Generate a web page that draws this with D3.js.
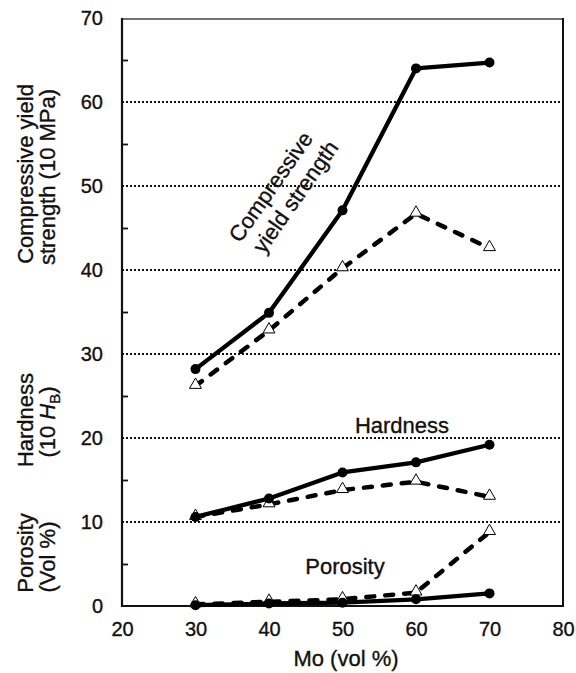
<!DOCTYPE html>
<html>
<head>
<meta charset="utf-8">
<script src="https://cdn.jsdelivr.net/npm/d3@7"></script>
<style>
  body { margin: 0; background: #fff; }
  svg { display: block; }
  text { font-family: "Liberation Sans", Arial, Helvetica, sans-serif; fill: #111; stroke: #111; stroke-width: 0.35px; }
</style>
</head>
<body>
<svg id="chart" width="576" height="673"></svg>
<script>
// ---- data ----
const moContent = [30, 40, 50, 60, 70];
const strengthSolid = [28.2, 34.9, 47.1, 64.0, 64.7];
const strengthDashed = [26.2, 32.8, 40.2, 46.7, 42.6];
const hardnessSolid = [10.6, 12.8, 15.9, 17.1, 19.2];
const hardnessDashed = [10.6, 12.1, 13.8, 14.8, 13.0];
const porositySolid = [0.1, 0.3, 0.4, 0.8, 1.5];
const porosityDashed = [0.2, 0.5, 0.8, 1.6, 8.8];
const xTicks = [20, 30, 40, 50, 60, 70, 80];
const yTicks = [0, 10, 20, 30, 40, 50, 60, 70];
const yMinorTicks = [5, 15, 25, 35, 45, 55, 65];
const gridValues = [10, 20, 30, 40, 50, 60];

const svg = d3.select("#chart");
const L = 122, R = 563, T = 18, B = 606;
const x = d3.scaleLinear().domain([20, 80]).range([L, R]);
const y = d3.scaleLinear().domain([0, 70]).range([B, T]);

// grid
svg.append("g").selectAll("line").data(gridValues).join("line")
  .attr("x1", L).attr("x2", R)
  .attr("y1", d => y(d)).attr("y2", d => y(d))
  .attr("stroke", "#111").attr("stroke-width", 2)
  .attr("stroke-dasharray", "2,2");

// axes
const yAxis = svg.append("g").attr("transform", `translate(${L},0)`)
  .call(d3.axisLeft(y).tickValues(yTicks).tickSize(0).tickPadding(19).tickFormat(d3.format("d")));
yAxis.select(".domain").remove();
yAxis.selectAll("text").style("font-size", "20px").attr("fill", "#111");

const yMinor = svg.append("g").attr("transform", `translate(${L},0)`)
  .call(d3.axisRight(y).tickValues(yMinorTicks).tickSize(6).tickFormat(""));
yMinor.select(".domain").remove();
yMinor.selectAll("line").attr("stroke", "#111").attr("stroke-width", 1.8);

const xAxis = svg.append("g").attr("transform", `translate(0,${B})`)
  .call(d3.axisBottom(x).tickValues(xTicks).tickSize(0).tickPadding(16).tickFormat(d3.format("d")));
xAxis.select(".domain").remove();
xAxis.selectAll("text").style("font-size", "20px").attr("fill", "#111");

// frame
svg.append("line").attr("x1", L).attr("x2", R).attr("y1", T + 1).attr("y2", T + 1)
  .attr("stroke", "#444").attr("stroke-width", 1.5);
svg.append("line").attr("x1", R).attr("x2", R).attr("y1", T).attr("y2", B + 1)
  .attr("stroke", "#111").attr("stroke-width", 2);
svg.append("line").attr("x1", L).attr("x2", L).attr("y1", T).attr("y2", B + 1)
  .attr("stroke", "#111").attr("stroke-width", 2.2);
svg.append("line").attr("x1", L - 1).attr("x2", R + 1).attr("y1", B).attr("y2", B)
  .attr("stroke", "#111").attr("stroke-width", 2.2);

// series
const line = d3.line().x((d, i) => x(moContent[i])).y(d => y(d));
const solids = [strengthSolid, hardnessSolid, porositySolid];
const dashed = [strengthDashed, hardnessDashed, porosityDashed];
const tri = d3.symbol().type(d3.symbolTriangle).size(62);

dashed.forEach(s => {
  svg.append("path").datum(s).attr("d", line)
    .attr("fill", "none").attr("stroke", "#000").attr("stroke-width", 4.5)
    .attr("stroke-linecap", "round").attr("stroke-dasharray", "8,11");
});
dashed.forEach(s => {
  svg.append("g").selectAll("path").data(s).join("path")
    .attr("d", tri)
    .attr("transform", (d, i) => `translate(${x(moContent[i])},${y(d) - 1})`)
    .attr("fill", "#fff").attr("stroke", "#000").attr("stroke-width", 1);
});
solids.forEach(s => {
  svg.append("path").datum(s).attr("d", line)
    .attr("fill", "none").attr("stroke", "#000").attr("stroke-width", 4.3)
    .attr("stroke-linejoin", "round");
  svg.append("g").selectAll("circle").data(s).join("circle")
    .attr("cx", (d, i) => x(moContent[i])).attr("cy", d => y(d)).attr("r", 5)
    .attr("fill", "#000");
});

// annotations
const ann = svg.append("g").attr("transform", "translate(281,194) rotate(-55)");
ann.append("text").attr("x", 0).attr("y", -5).attr("text-anchor", "middle")
  .style("font-size", "22px").text("Compressive");
ann.append("text").attr("x", 6).attr("y", 21).attr("text-anchor", "middle")
  .style("font-size", "22px").text("yield strength");

svg.append("text").attr("x", 402).attr("y", 433).attr("text-anchor", "middle")
  .style("font-size", "22px").text("Hardness");
svg.append("text").attr("x", 345).attr("y", 574).attr("text-anchor", "middle")
  .style("font-size", "22px").text("Porosity");

// axis titles
svg.append("text").attr("x", 346).attr("y", 666).attr("text-anchor", "middle")
  .style("font-size", "22px").text("Mo (vol %)");

function vtitle(cx, cy, text) {
  return svg.append("text").attr("transform", `translate(${cx},${cy}) rotate(-90)`)
    .attr("text-anchor", "middle").style("font-size", "22px").text(text);
}
vtitle(33, 174, "Compressive yield");
vtitle(55, 177, "strength (10 MPa)");
vtitle(33, 420, "Hardness");
const hb = vtitle(55, 422, "(10 ");
hb.append("tspan").style("font-style", "italic").text("H");
hb.append("tspan").attr("dy", 5).style("font-size", "15px").text("B");
hb.append("tspan").attr("dy", -5).text(")");
vtitle(33, 553, "Porosity");
vtitle(55, 557, "(Vol %)");
</script>
</body>
</html>
